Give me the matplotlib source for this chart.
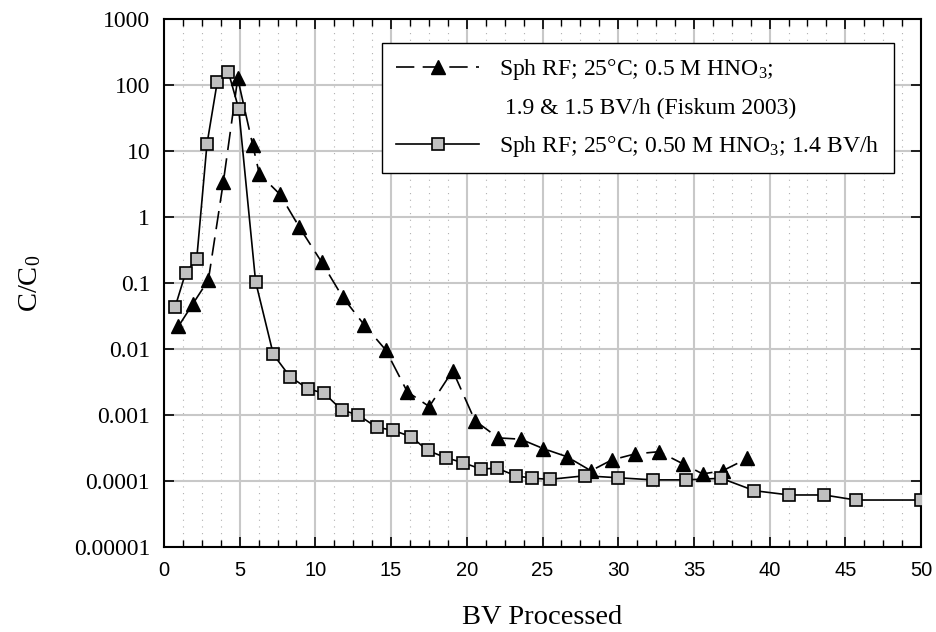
import numpy as np
import matplotlib
matplotlib.use("Agg")
import matplotlib.pyplot as plt
from matplotlib.ticker import MultipleLocator, FixedLocator, NullLocator

plt.rcParams['font.family'] = ['Liberation Serif', 'DejaVu Serif']
plt.rcParams['mathtext.fontset'] = 'custom'
plt.rcParams['mathtext.rm'] = 'Liberation Serif'
plt.rcParams['mathtext.it'] = 'Liberation Serif:italic'

# Fiskum 2003 run (triangles, dashed)
bv_fiskum = [0.95, 1.9, 2.93, 3.92, 4.87, 5.86, 6.3, 7.66, 8.94, 10.42, 11.8,
             13.23, 14.64, 16.07, 17.52, 19.07, 20.54, 22.08, 23.56, 25.05,
             26.6, 28.2, 29.57, 31.1, 32.7, 34.3, 35.58, 36.9, 38.53]
c_fiskum = [0.022, 0.048, 0.111, 3.4, 126, 12.3, 4.5, 2.2, 0.7, 0.206, 0.061,
            0.0231, 0.0097, 0.00225, 0.00134, 0.0047, 0.00082, 0.00045, 0.00043,
            0.00031, 0.000234, 0.000143, 0.000208, 0.000257, 0.000278,
            0.000181, 0.000128, 0.000143, 0.00022]

# this run (squares, solid)
bv_run = [0.73, 1.43, 2.16, 2.84, 3.52, 4.25, 4.93, 6.05, 7.22, 8.32, 9.53,
          10.59, 11.74, 12.83, 14.05, 15.1, 16.31, 17.42, 18.6, 19.73, 20.94,
          22.01, 23.23, 24.33, 25.5, 27.8, 30.0, 32.3, 34.5, 36.8, 39.0, 41.3,
          43.6, 45.7, 50.0]
c_run = [0.043, 0.143, 0.23, 12.8, 112, 158, 44, 0.105, 0.0083, 0.0038,
         0.00248, 0.00213, 0.00119, 0.001, 0.00065, 0.00059, 0.00047, 0.00029,
         0.000226, 0.00019, 0.000152, 0.000156, 0.00012, 0.00011, 0.000106,
         0.00012, 0.000112, 0.000104, 0.000104, 0.00011, 0.0000713,
         0.0000614, 0.0000614, 0.0000515, 0.0000515]

y_ticks = [1e-5, 1e-4, 1e-3, 1e-2, 1e-1, 1, 10, 100, 1000]
y_labels = ['0.00001', '0.0001', '0.001', '0.01', '0.1', '1', '10', '100', '1000']

fig = plt.figure(figsize=(9.36, 6.32), dpi=100)
ax = fig.add_axes([164/936, 1 - 547/632, (921-164)/936, (547-19)/632])

ax.plot(bv_fiskum, c_fiskum, color='black', lw=1.2, dashes=(11, 5),
        marker='^', ms=10, mfc='black', mec='black', zorder=3,
        label='Sph RF; 25°C; 0.5 M HNO$_3$;')
ax.plot([], [], ls='none', label=' 1.9 & 1.5 BV/h (Fiskum 2003)')
ax.plot(bv_run, c_run, color='black', lw=1.2, marker='s', ms=8.5,
        mfc='#c0c0c0', mec='black', mew=1.2, zorder=4,
        label='Sph RF; 25°C; 0.50 M HNO$_3$; 1.4 BV/h')

ax.set_yscale('log')
ax.set_xlim(0, 50)
ax.set_ylim(1e-5, 1000)
ax.yaxis.set_major_locator(FixedLocator(y_ticks))
ax.yaxis.set_minor_locator(NullLocator())
ax.set_yticklabels(y_labels)
ax.xaxis.set_major_locator(MultipleLocator(5))
ax.xaxis.set_minor_locator(MultipleLocator(1.25))

ax.grid(True, which='major', color='#c8c8c8', lw=1.5)
ax.grid(True, which='minor', axis='x', color='#b0b0b0', lw=0.8, ls=(0, (1, 5)))
ax.set_axisbelow(True)

ax.tick_params(axis='both', which='both', direction='in', top=True, right=True,
               color='black')
ax.tick_params(axis='x', which='major', length=7, width=1.2, pad=10)
ax.tick_params(axis='x', which='minor', length=5, width=1.0)
ax.tick_params(axis='y', which='major', length=7, width=1.2, pad=10, labelsize=17)
for lab in ax.get_xticklabels():
    lab.set_family(['Liberation Sans', 'DejaVu Sans'])
    lab.set_fontsize(14.5)
for s in ax.spines.values():
    s.set_linewidth(1.5)
    s.set_color('black')

ax.set_xlabel('BV Processed', fontsize=20.5)
ax.xaxis.set_label_coords(0.5, -0.11)
ax.set_ylabel('C/C$_0$', fontsize=20.5)
ax.yaxis.set_label_coords(-0.16, 0.5)

leg = ax.legend(loc='upper left', bbox_to_anchor=(0.288, 0.955), fontsize=17,
                frameon=True, fancybox=False, framealpha=1, edgecolor='black',
                handlelength=3.5, handletextpad=0.85, labelspacing=0.65,
                borderpad=0.6, borderaxespad=0)
leg.get_frame().set_linewidth(1.0)

fig.savefig('out.png', dpi=100)
